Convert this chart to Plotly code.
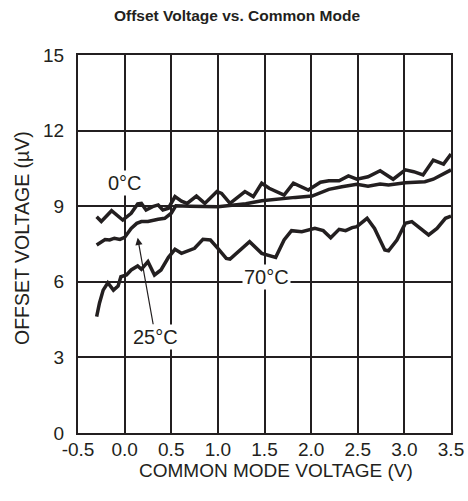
import plotly.graph_objects as go

# 0°C curve
x_0c = [-0.30, -0.25, -0.14, -0.09, -0.02, 0.07, 0.14, 0.18, 0.23, 0.30, 0.36, 0.41, 0.47, 0.54, 0.61,
        0.67, 0.77, 0.86, 0.99, 1.04, 1.13, 1.29, 1.38, 1.47, 1.55, 1.71, 1.81, 1.97, 2.10, 2.19,
        2.30, 2.40, 2.49, 2.61, 2.74, 2.88, 3.01, 3.10, 3.20, 3.31, 3.42, 3.50]
y_0c = [8.58, 8.39, 8.82, 8.65, 8.45, 8.72, 9.09, 9.11, 8.85, 8.98, 9.05, 8.85, 8.92, 9.38, 9.20,
        9.11, 9.40, 9.11, 9.58, 9.51, 9.11, 9.58, 9.38, 9.91, 9.71, 9.44, 9.91, 9.64, 9.95, 10.01,
        10.01, 10.20, 10.07, 10.17, 10.41, 10.07, 10.44, 10.37, 10.24, 10.83, 10.67, 11.07]

# 25°C curve
x_25c = [-0.30, -0.21, -0.16, -0.11, -0.05, 0.00, 0.07, 0.13, 0.18, 0.25, 0.36, 0.43, 0.50, 0.55,
         0.70, 0.90, 1.00, 1.10, 1.30, 1.47, 1.69, 1.83, 2.01, 2.19, 2.33, 2.49, 2.61, 2.74, 2.83,
         3.01, 3.22, 3.31, 3.50]
y_25c = [7.46, 7.68, 7.66, 7.73, 7.68, 7.76, 8.12, 8.32, 8.39, 8.39, 8.48, 8.52, 8.72, 9.02,
         9.00, 9.00, 8.98, 9.02, 9.10, 9.22, 9.31, 9.35, 9.40, 9.67, 9.77, 9.87, 9.79, 9.88, 9.84,
         9.93, 9.97, 10.07, 10.44]

# 70°C curve
x_70c = [-0.30, -0.27, -0.23, -0.18, -0.12, -0.07, -0.04, 0.02, 0.07, 0.14, 0.18, 0.25, 0.32, 0.39,
         0.47, 0.54, 0.61, 0.75, 0.84, 0.92, 1.00, 1.09, 1.13, 1.26, 1.34, 1.47, 1.62, 1.71, 1.79,
         1.90, 2.04, 2.13, 2.21, 2.30, 2.37, 2.44, 2.49, 2.60, 2.68, 2.79, 2.83, 2.92, 3.01, 3.08,
         3.17, 3.26, 3.35, 3.44, 3.50]
y_70c = [4.62, 5.15, 5.67, 5.96, 5.67, 5.83, 6.20, 6.27, 6.47, 6.63, 6.50, 6.80, 6.27, 6.47,
         6.97, 7.29, 7.13, 7.33, 7.69, 7.66, 7.33, 6.93, 6.90, 7.33, 7.59, 7.13, 6.97, 7.66, 8.03,
         7.99, 8.12, 8.03, 7.75, 8.08, 8.03, 8.15, 8.19, 8.52, 8.12, 7.26, 7.23, 7.66, 8.32, 8.39,
         8.12, 7.86, 8.12, 8.52, 8.61]

x_ticks = [-0.5, 0.0, 0.5, 1.0, 1.5, 2.0, 2.5, 3.0, 3.5]
y_ticks = [0, 3, 6, 9, 12, 15]

x_title = "COMMON MODE VOLTAGE (V)"
y_title = "OFFSET VOLTAGE (µV)"

INK = "#231f20"
FONT = "Liberation Sans, Arial, sans-serif"

fig = go.Figure()
for xs, ys in [(x_0c, y_0c), (x_25c, y_25c), (x_70c, y_70c)]:
    fig.add_trace(go.Scatter(x=xs, y=ys, mode="lines",
                             line=dict(color=INK, width=3.5), showlegend=False,
                             hoverinfo="skip"))

fig.add_annotation(x=0.0, y=9.92, text="0°C", showarrow=False, bgcolor="white",
                   font=dict(size=20, color=INK, family=FONT))
fig.add_annotation(x=1.52, y=6.2, text="70°C", showarrow=False, bgcolor="white",
                   font=dict(size=20, color=INK, family=FONT))
fig.add_annotation(x=0.14, y=7.75, ax=0.33, ay=3.82, axref="x", ayref="y",
                   text="25°C", showarrow=True, arrowhead=2, arrowsize=1.2,
                   arrowwidth=1.2, arrowcolor=INK, bgcolor="white",
                   font=dict(size=20, color=INK, family=FONT))

# axis titles, placed where the reference has them
fig.add_annotation(text=x_title, xref="paper", yref="paper", x=0.531, y=-0.098,
                   xanchor="center", yanchor="middle", showarrow=False,
                   font=dict(size=19, color=INK, family=FONT))
fig.add_annotation(text=y_title, xref="paper", yref="paper", x=-0.150, y=0.516,
                   xanchor="center", yanchor="middle", showarrow=False, textangle=-90,
                   font=dict(size=19.5, color=INK, family=FONT))

axis_common = dict(showline=True, mirror=True, linecolor=INK, linewidth=2,
                   showgrid=True, gridcolor=INK, gridwidth=1.5, zeroline=False,
                   ticks="", tickfont=dict(size=19, color=INK, family=FONT),
                   automargin=False)

fig.update_xaxes(range=[-0.5, 3.5], tickvals=x_ticks,
                 ticktext=[f"{v:.1f}" for v in x_ticks], ticklabelstandoff=-2,
                 **axis_common)
fig.update_yaxes(range=[0, 15], tickvals=y_ticks,
                 ticktext=[str(v) for v in y_ticks], ticklabelstandoff=8,
                 **axis_common)

fig.update_layout(
    width=468, height=501,
    margin=dict(l=78, r=17, t=55, b=68),
    paper_bgcolor="white", plot_bgcolor="white",
    title=dict(text="<b>Offset Voltage vs. Common Mode</b>", x=237 / 468, xref="container",
               xanchor="center", y=1 - 16 / 501, yref="container", yanchor="middle",
               font=dict(size=15.5, color=INK, family=FONT)),
    font=dict(family=FONT, color=INK),
)

# remove the browser's default 8px body margin so the figure sits at the page origin
fig.write_html("out.html", config={"displayModeBar": False},
               post_script="document.body.style.margin='0';")
